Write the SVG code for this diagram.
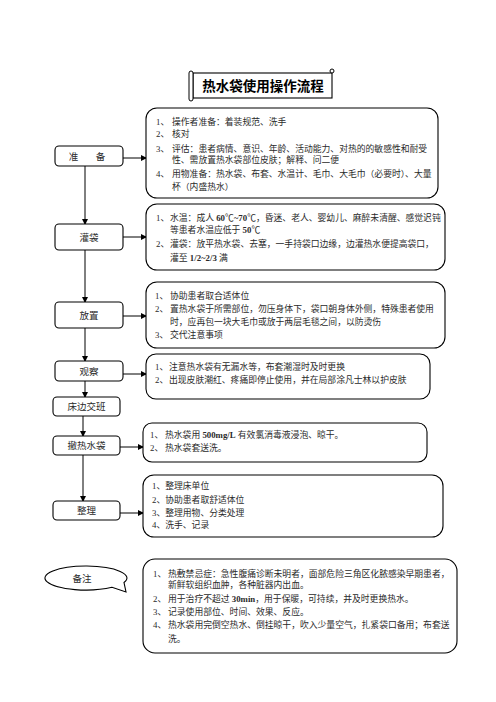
<svg xmlns="http://www.w3.org/2000/svg" width="496" height="702" viewBox="0 0 496 702">
<defs>
<marker id="ah" markerWidth="6" markerHeight="6" refX="5" refY="3" orient="auto" markerUnits="userSpaceOnUse">
<path d="M0,0 L6,3 L0,6 Z" fill="#000"/>
</marker>
<style>
.box{fill:#fff;stroke:#000;stroke-width:1.1}
.t{font-family:"Liberation Serif","Noto Sans CJK SC",serif;font-size:8.8px;fill:#2a2a2a}
.lbl{font-family:"Liberation Serif","Noto Sans CJK SC",serif;font-size:9.5px;fill:#2a2a2a;text-anchor:middle}
.b{font-weight:bold}
.c{fill:none;stroke:#000;stroke-width:1}
</style>
</defs>
<rect width="496" height="702" fill="#fff"/>

<g id="title">
<rect x="193" y="73" width="139" height="25" fill="#fff" stroke="#000" stroke-width="1.1"/>
<rect x="189" y="71" width="4" height="30" rx="2" fill="#fff" stroke="#000" stroke-width="1"/>
<circle cx="332" cy="71" r="2" fill="#fff" stroke="#000" stroke-width="1"/>
<text x="263" y="91" font-family="'Noto Sans CJK SC',sans-serif" font-size="13.5" font-weight="bold" text-anchor="middle" fill="#000">热水袋使用操作流程</text>
</g>

<g id="connectors">
<line class="c" x1="85" y1="166" x2="85" y2="224" marker-end="url(#ah)"/>
<line class="c" x1="85" y1="250" x2="85" y2="302" marker-end="url(#ah)"/>
<line class="c" x1="85" y1="328" x2="85" y2="361" marker-end="url(#ah)"/>
<line class="c" x1="85" y1="381" x2="85" y2="397" marker-end="url(#ah)"/>
<line class="c" x1="83" y1="416" x2="83" y2="436" marker-end="url(#ah)"/>
<line class="c" x1="83" y1="455" x2="83" y2="501" marker-end="url(#ah)"/>
<line class="c" x1="123" y1="158" x2="146" y2="158" marker-end="url(#ah)"/>
<line class="c" x1="123" y1="237" x2="146" y2="237" marker-end="url(#ah)"/>
<line class="c" x1="123" y1="316" x2="146" y2="316" marker-end="url(#ah)"/>
<line class="c" x1="123" y1="374" x2="146" y2="374" marker-end="url(#ah)"/>
<line class="c" x1="120" y1="447" x2="143" y2="447" marker-end="url(#ah)"/>
<line class="c" x1="120" y1="513" x2="143" y2="513" marker-end="url(#ah)"/>
</g>

<g id="n-prepare">
<rect class="box" x="55" y="146" width="68" height="20" rx="4"/>
<text class="lbl" x="89" y="159.5" letter-spacing="4">准　备</text>
</g>
<g id="d-prepare">
<rect class="box" x="146" y="108" width="292" height="90" rx="11"/>
<text class="t" x="156" y="124.5">1、</text><text class="t" x="172" y="124.5">操作者准备：着装规范、洗手</text>
<text class="t" x="156" y="137">2、</text><text class="t" x="172" y="137">核对</text>
<text class="t" x="156" y="151.5">3、</text><text class="t" x="172" y="151.5">评估：患者病情、意识、年龄、活动能力、对热的的敏感性和耐受</text>
<text class="t" x="172" y="163">性、需放置热水袋部位皮肤；解释、问二便</text>
<text class="t" x="156" y="176.5">4、</text><text class="t" x="172" y="176.5">用物准备：热水袋、布套、水温计、毛巾、大毛巾（必要时）、大量</text>
<text class="t" x="172" y="189.5">杯（内盛热水）</text>
</g>

<g id="n-fill">
<rect class="box" x="55" y="224" width="68" height="26" rx="4"/>
<text class="lbl" x="89" y="240.5">灌袋</text>
</g>
<g id="d-fill">
<rect class="box" x="146" y="204" width="299" height="66" rx="11"/>
<text class="t" x="156" y="220.5">1、</text><text class="t" x="170" y="220.5">水温：成人 <tspan class="b">60</tspan>℃<tspan class="b">~70</tspan>℃，昏迷、老人、婴幼儿、麻醉未清醒、感觉迟钝</text>
<text class="t" x="170" y="232.5">等患者水温应低于 <tspan class="b">50</tspan>℃</text>
<text class="t" x="156" y="246.5">2、</text><text class="t" x="170" y="246.5">灌袋：放平热水袋、去塞，一手持袋口边缘，边灌热水便提高袋口，</text>
<text class="t" x="170" y="260.5">灌至 <tspan class="b">1/2~2/3</tspan> 满</text>
</g>

<g id="n-place">
<rect class="box" x="55" y="302" width="68" height="26" rx="4"/>
<text class="lbl" x="89" y="318.5">放置</text>
</g>
<g id="d-place">
<rect class="box" x="146" y="282" width="299" height="66" rx="11"/>
<text class="t" x="155" y="298.5">1、</text><text class="t" x="170" y="298.5">协助患者取合适体位</text>
<text class="t" x="155" y="311.5">2、</text><text class="t" x="170" y="311.5">置热水袋于所需部位，勿压身体下，袋口朝身体外侧，特殊患者使用</text>
<text class="t" x="170" y="324.5">时，应再包一块大毛巾或放于两层毛毯之间，以防烫伤</text>
<text class="t" x="155" y="337.5">3、</text><text class="t" x="170" y="337.5">交代注意事项</text>
</g>

<g id="n-observe">
<rect class="box" x="55" y="361" width="68" height="20" rx="4"/>
<text class="lbl" x="89" y="374.5">观察</text>
</g>
<g id="d-observe">
<rect class="box" x="146" y="354" width="284" height="45" rx="10"/>
<text class="t" x="155" y="369.5">1、</text><text class="t" x="169" y="369.5">注意热水袋有无漏水等，布套潮湿时及时更换</text>
<text class="t" x="155" y="382.5">2、</text><text class="t" x="169" y="382.5">出现皮肤潮红、疼痛即停止使用，并在局部涂凡士林以护皮肤</text>
</g>

<g id="n-handover">
<rect class="box" x="53" y="397" width="67" height="19" rx="4"/>
<text class="lbl" x="86.5" y="410">床边交班</text>
</g>

<g id="n-remove">
<rect class="box" x="53" y="436" width="67" height="19" rx="4"/>
<text class="lbl" x="86.5" y="449">撤热水袋</text>
</g>
<g id="d-remove">
<rect class="box" x="143" y="423" width="284" height="39" rx="9"/>
<text class="t" x="150" y="437.5">1、</text><text class="t" x="165" y="437.5">热水袋用 <tspan class="b">500mg/L</tspan> 有效氯消毒液浸泡、晾干。</text>
<text class="t" x="150" y="450.5">2、</text><text class="t" x="165" y="450.5">热水袋套送洗。</text>
</g>

<g id="n-tidy">
<rect class="box" x="53" y="501" width="67" height="19" rx="4"/>
<text class="lbl" x="86.5" y="514">整理</text>
</g>
<g id="d-tidy">
<rect class="box" x="143" y="475" width="300" height="62" rx="11"/>
<text class="t" x="152" y="488.5">1、整理床单位</text>
<text class="t" x="152" y="502.5">2、协助患者取舒适体位</text>
<text class="t" x="152" y="515.5">3、整理用物、分类处理</text>
<text class="t" x="152" y="527.5">4、洗手、记录</text>
</g>

<g id="n-note">
<path d="M124,582.5 A41,12 0 1 0 112,587.3 L126,592 Z" fill="#fff" stroke="#000" stroke-width="1.1"/>
<text class="lbl" x="82" y="581.5">备注</text>
</g>
<g id="d-note">
<rect class="box" x="143" y="559" width="314" height="94" rx="12"/>
<text class="t" x="153" y="576.5">1、</text><text class="t" x="168" y="576.5">热敷禁忌症：急性腹痛诊断未明者，面部危险三角区化脓感染早期患者，</text>
<text class="t" x="168" y="588">新鲜软组织血肿，各种脏器内出血。</text>
<text class="t" x="153" y="601.5">2、</text><text class="t" x="168" y="601.5">用于治疗不超过 <tspan class="b">30min</tspan>，用于保暖，可持续，并及时更换热水。</text>
<text class="t" x="153" y="614.5">3、</text><text class="t" x="168" y="614.5">记录使用部位、时间、效果、反应。</text>
<text class="t" x="153" y="627.5">4、</text><text class="t" x="168" y="627.5">热水袋用完倒空热水、倒挂晾干，吹入少量空气，扎紧袋口备用；布套送</text>
<text class="t" x="168" y="641.5">洗。</text>
</g>
</svg>
